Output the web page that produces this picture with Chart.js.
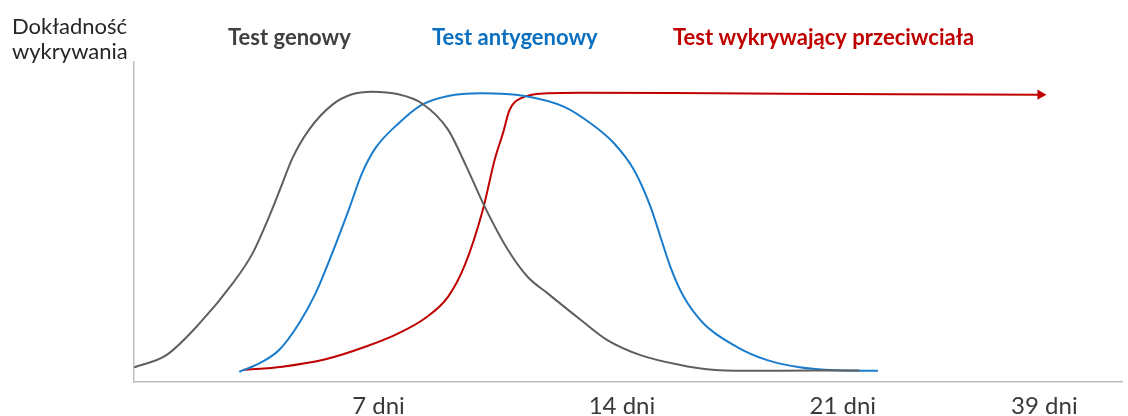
<!DOCTYPE html>
<html>
<head>
<meta charset="utf-8">
<script src="https://cdn.jsdelivr.net/npm/chart.js@4"></script>
<style>
  html, body { margin: 0; padding: 0; background: #ffffff; }
  #wrap { position: relative; width: 1128px; height: 416px; }
</style>
</head>
<body>
<div id="wrap"><canvas id="c"></canvas></div>
<script>
// ---- data (days since infection, detection accuracy 0..100) ----
const seriesNames = ['Test genowy', 'Test antygenowy', 'Test wykrywający przeciwciała'];
const axisTitleLines = ['Dokładność', 'wykrywania'];

const genDays = [-0.37, 0.6, 1.6, 2.6, 3.2, 3.7, 4.1, 4.4, 4.9, 5.6, 6.2, 6.8, 7.6, 8.3, 9.1, 9.65, 10.2, 10.9, 11.5, 12.1, 13.1, 13.9, 14.9, 16.1, 16.9, 18.1, 20.1, 21.5];
const genValues = [4.6, 8.4, 18.3, 30.8, 40.2, 51.7, 62.1, 69.9, 78.8, 86.6, 89.9, 90.7, 89.9, 87.1, 78.8, 67.3, 54.8, 41.3, 32.8, 27.7, 19.4, 13.1, 8.4, 5.3, 4.0, 3.5, 3.6, 3.6];

const antDays = [2.8, 3.4, 4.0, 4.6, 5.1, 5.6, 6.1, 6.5, 6.9, 7.6, 8.3, 9.1, 10.1, 11.4, 12.6, 13.4, 14.1, 14.7, 15.2, 15.5, 15.8, 16.2, 16.8, 17.8, 18.7, 19.7, 20.6, 22.06];
const antValues = [3.2, 5.8, 10.0, 18.3, 27.7, 40.2, 53.8, 65.2, 73.0, 80.8, 86.6, 89.4, 90.2, 89.4, 86.0, 80.8, 74.6, 66.3, 54.8, 45.4, 36.0, 26.7, 18.3, 11.0, 6.9, 4.6, 3.75, 3.5];

const abDays = [2.9, 4.1, 5.4, 6.6, 7.6, 8.4, 9.1, 9.6, 10.15, 10.5, 10.75, 10.95, 11.3, 12.1, 13.1, 17.1, 22.6, 26.96];
const abValues = [3.75, 4.8, 7.1, 11.0, 15.2, 19.9, 26.7, 36.5, 54.0, 69.4, 77.7, 85.0, 88.7, 90.2, 90.4, 90.2, 89.9, 89.8];

const xTickDays = [7, 14.34, 21, 27.08];
const xTickLabels = ['7 dni', '14 dni', '21 dni', '39 dni'];

// ---- styles ----
const colGen = '#5f5f5f';
const colAnt = '#1a7ccc';
const colAb = '#c00000';
const textCols = ['#404040', '#0b70c0', '#c00000'];
const FONT = 'Lato, "Open Sans", sans-serif';

const toXY = (xs, ys) => xs.map((x, i) => ({ x: x, y: ys[i] }));

const labelPlugin = {
  id: 'labels',
  afterDraw(chart) {
    const ctx = chart.ctx;
    ctx.save();
    ctx.textBaseline = 'alphabetic';
    ctx.textAlign = 'left';
    ctx.fillStyle = '#262626';
    ctx.font = '22px ' + FONT;
    ctx.fillText(axisTitleLines[0], 12, 34);
    ctx.fillText(axisTitleLines[1], 12, 59);
    const xs = [228, 432, 673];
    ctx.font = 'bold 22px ' + FONT;
    seriesNames.forEach((n, i) => {
      ctx.fillStyle = textCols[i];
      ctx.fillText(n, xs[i], 45);
    });
    ctx.restore();
  }
};

new Chart(document.getElementById('c'), {
  type: 'line',
  data: {
    datasets: [
      { label: seriesNames[0], data: toXY(genDays, genValues), borderColor: colGen, borderWidth: 2, pointRadius: 0, cubicInterpolationMode: 'monotone', fill: false },
      { label: seriesNames[1], data: toXY(antDays, antValues), borderColor: colAnt, borderWidth: 2, pointRadius: 0, cubicInterpolationMode: 'monotone', fill: false },
      { label: seriesNames[2], data: toXY(abDays, abValues), borderColor: colAb, borderWidth: 2,
        pointRadius: abDays.map((d, i) => i === abDays.length - 1 ? 6 : 0),
        pointStyle: 'triangle', pointRotation: 90, pointBackgroundColor: colAb, pointBorderWidth: 0,
        cubicInterpolationMode: 'monotone', fill: false }
    ]
  },
  options: {
    responsive: true,
    maintainAspectRatio: false,
    animation: false,
    events: [],
    layout: { padding: { left: 134, top: 62, right: 0, bottom: 0 } },
    plugins: { legend: { display: false }, tooltip: { enabled: false }, title: { display: false } },
    scales: {
      x: {
        type: 'linear',
        min: -0.375,
        max: 29.42,
        grid: { display: false, drawTicks: false },
        border: { display: true, color: '#bfbfbf', width: 1.5 },
        afterBuildTicks: (scale) => { scale.ticks = xTickDays.map(v => ({ value: v })); },
        afterFit: (scale) => { scale.height = 34; },
        ticks: {
          autoSkip: false,
          maxRotation: 0,
          padding: 10,
          color: '#3a3a3a',
          font: { family: FONT, size: 24 },
          callback: (v) => { const i = xTickDays.indexOf(v); return i >= 0 ? xTickLabels[i] : ''; }
        }
      },
      y: {
        type: 'linear',
        min: 0,
        max: 100,
        grid: { display: false, drawTicks: false },
        border: { display: true, color: '#bfbfbf', width: 1.5 },
        ticks: { display: false },
        afterFit: (scale) => { scale.width = 0; }
      }
    }
  },
  plugins: [labelPlugin]
});
</script>
</body>
</html>
